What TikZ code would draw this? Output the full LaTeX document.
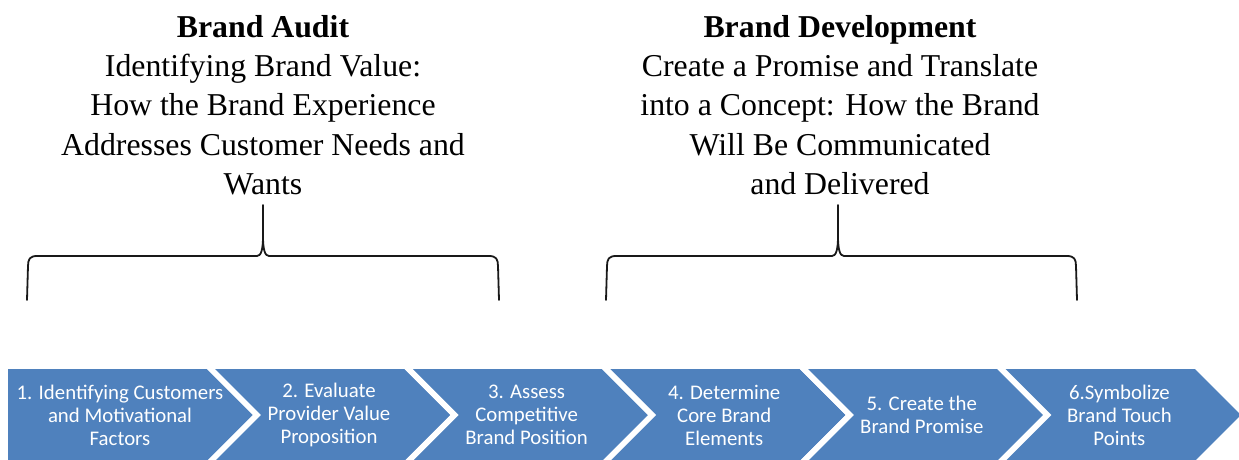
\documentclass[tikz,border=0pt]{standalone}
\usepackage{fontspec}
\setmainfont{Liberation Serif}
\newfontfamily\stepfont{Carlito}
\definecolor{stepblue}{HTML}{4F81BD}
\tikzset{
  chevron/.style={fill=stepblue,draw=white,line width=5.6pt,line join=miter},
  steptext/.style={text=white,align=center,inner sep=0pt,font=\stepfont\fontsize{20.8}{23}\selectfont},
  headtext/.style={align=center,inner sep=0pt,anchor=north,font=\fontsize{31.8}{39.3}\selectfont},
  bracket/.style={draw=black!90,line width=1.8pt}
}
\begin{document}
\begin{tikzpicture}[x=1pt,y=-1pt,line cap=round,line join=round]
\useasboundingbox (0,0) rectangle (1239,459);
\node[headtext] (audit) at (263,15) {\textbf{Brand Audit}\\Identifying Brand Value:\\How the Brand Experience\\Addresses Customer Needs and\\Wants};
\node[headtext] (develop) at (840,15) {\textbf{Brand Development}\\Create a Promise and Translate\\into a Concept: How the Brand\\Will Be Communicated\\and Delivered};
\foreach \l/\t/\r in {27/263/499,606/838/1077}
\draw[bracket] (\l,300) -- (\l+1,266) .. controls (\l+1,259) and (\l+3,256) .. (\l+10,256) -- (\t-6,256)
  .. controls (\t-2,256) and (\t,250) .. (\t,236) -- (\t,205)
  (\t,236) .. controls (\t,250) and (\t+2,256) .. (\t+6,256) -- (\r-10,256)
  .. controls (\r-3,256) and (\r-1,259) .. (\r-1,266) -- (\r,300);
\foreach \k/\txt in {1/{1. Identifying Customers\\and Motivational\\Factors},
  2/{2. Evaluate\\Provider Value\\Proposition},
  3/{3. Assess\\Competitive\\Brand Position},
  4/{4. Determine\\Core Brand\\Elements},
  5/{5. Create the\\Brand Promise},
  6/{6.Symbolize\\Brand Touch\\Points}}{
  \pgfmathsetmacro\R{208+197.6*(\k-1)}
  \pgfmathsetmacro\L{\k==1 ? 5 : \R-197.6}
  \pgfmathsetmacro\N{\k==1 ? 0 : 49}
  \pgfmathsetmacro\C{\k==1 ? 120 : \L+121}
  \path[chevron] (\L,366) -- (\R,366) -- (\R+49,415) -- (\R,464) -- (\L,464) -- (\L+\N,415) -- cycle;
  \node[steptext] (step\k) at (\C,415) {\txt};
}
\end{tikzpicture}
\end{document}
